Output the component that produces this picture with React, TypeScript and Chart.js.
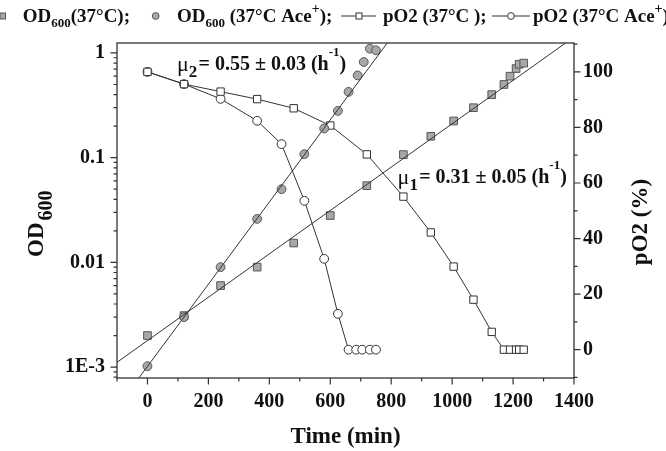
import { useEffect, useRef } from 'react';
import { Chart, registerables } from 'chart.js';
Chart.register(...registerables);

const FONT = '"Liberation Serif", "Times New Roman", serif';

// ---- data ----
const odTime37 = [0, 120, 240, 360, 480, 600, 720, 840, 930, 1005, 1070, 1130, 1170, 1190, 1210, 1220, 1235];
const od37 = [0.002, 0.0031, 0.006, 0.009, 0.0153, 0.028, 0.054, 0.107, 0.16, 0.224, 0.3, 0.4, 0.5, 0.6, 0.71, 0.78, 0.8];

const odTimeAce = [0, 120, 240, 360, 440, 515, 580, 625, 660, 690, 710, 730, 750];
const odAce = [0.00102, 0.003, 0.009, 0.026, 0.05, 0.108, 0.19, 0.28, 0.425, 0.61, 0.82, 1.1, 1.06];

const pO2Time37 = [0, 120, 240, 360, 480, 600, 720, 840, 930, 1005, 1070, 1130, 1170, 1190, 1210, 1220, 1235];
const pO237 = [100, 95.6, 92.9, 90.2, 86.9, 80.7, 70.3, 55.1, 42.2, 29.9, 18.0, 6.4, 0, 0, 0, 0, 0];

const pO2TimeAce = [0, 120, 240, 360, 440, 515, 580, 625, 660, 685, 705, 730, 750];
const pO2Ace = [100, 95.6, 90.3, 82.4, 74, 53.6, 32.7, 12.9, 0, 0, 0, 0, 0];

// fitted growth lines (end points)
const fit1Time = [-100, 1400];
const fit1OD = [0.00111, 1.42];
const fit2Time = [-50, 800];
const fit2OD = [0.000646, 1.4];

// axes
const xTickValues = [0, 200, 400, 600, 800, 1000, 1200, 1400];
const xMinorValues = [-100, 100, 300, 500, 700, 900, 1100, 1300];
const odTickValues = [0.001, 0.01, 0.1, 1];
const odTickLabels = ['1E-3', '0.01', '0.1', '1'];
const pO2TickValues = [0, 20, 40, 60, 80, 100];
const pO2MinorValues = [-10, 10, 30, 50, 70, 90, 110];

// annotation anchors (data coords: time, OD)
const annotTime = [97, 821];
const annotOD = [0.684, 0.0574];
const annotSub = ['2', '1'];
const annotBody = ['= 0.55 ± 0.03 (h', '= 0.31 ± 0.05 (h'];

const toXY = (xs: number[], ys: number[]) => xs.map((x, i) => ({ x, y: ys[i] }));

type Run = { t: string; s: number; dy?: number; w?: string };
function drawRuns(ctx: CanvasRenderingContext2D, x: number, y: number, runs: Run[]) {
  for (const r of runs) {
    ctx.font = `${r.w ?? 'bold'} ${r.s}px ${FONT}`;
    ctx.fillText(r.t, x, y + (r.dy ?? 0));
    x += ctx.measureText(r.t).width;
  }
  return x;
}
function runsWidth(ctx: CanvasRenderingContext2D, runs: Run[]) {
  let w = 0;
  for (const r of runs) {
    ctx.font = `${r.w ?? 'bold'} ${r.s}px ${FONT}`;
    w += ctx.measureText(r.t).width;
  }
  return w;
}

function drawCenteredTitle(ctx: CanvasRenderingContext2D, cx: number, cy: number, runs: Run[], rot: number) {
  ctx.save();
  ctx.translate(cx, cy);
  ctx.rotate(rot);
  const w = runsWidth(ctx, runs);
  drawRuns(ctx, -w / 2, 0, runs);
  ctx.restore();
}

const decorPlugin = {
  id: 'decor',
  afterDraw(chart: any) {
    const { ctx, chartArea: a, scales } = chart;
    const xs = scales.x, ys = scales.y, y2 = scales.y2;
    ctx.save();
    // frame
    ctx.strokeStyle = '#333';
    ctx.lineWidth = 1.3;
    ctx.strokeRect(a.left, a.top, a.right - a.left, a.bottom - a.top);
    // ticks
    ctx.lineWidth = 1.2;
    ctx.beginPath();
    const inX = (v: number) => v >= xs.min && v <= xs.max;
    xTickValues.filter(inX).forEach(v => { const p = xs.getPixelForValue(v); ctx.moveTo(p, a.bottom); ctx.lineTo(p, a.bottom + 6.5); });
    xMinorValues.filter(inX).forEach(v => { const p = xs.getPixelForValue(v); ctx.moveTo(p, a.bottom); ctx.lineTo(p, a.bottom + 3.5); });
    for (let d = -4; d <= 0; d++) {
      for (let m = 1; m <= 9; m++) {
        const v = m * Math.pow(10, d);
        if (v < ys.min || v > ys.max) continue;
        const p = ys.getPixelForValue(v);
        ctx.moveTo(a.left, p); ctx.lineTo(a.left - (m === 1 ? 6.5 : 3.5), p);
      }
    }
    pO2TickValues.forEach(v => { const p = y2.getPixelForValue(v); ctx.moveTo(a.right, p); ctx.lineTo(a.right + 6.5, p); });
    pO2MinorValues.filter(v => v >= y2.min && v <= y2.max).forEach(v => { const p = y2.getPixelForValue(v); ctx.moveTo(a.right, p); ctx.lineTo(a.right + 3.5, p); });
    ctx.stroke();

    ctx.fillStyle = '#111';
    ctx.textBaseline = 'alphabetic';
    ctx.textAlign = 'left';

    // annotations
    annotTime.forEach((t, i) => {
      const px = xs.getPixelForValue(t);
      const py = ys.getPixelForValue(annotOD[i]);
      drawRuns(ctx, px, py, [
        { t: 'μ', s: 22, w: 'normal', dy: 1 },
        { t: annotSub[i], s: 17, dy: 7 },
        { t: ' ', s: 5 },
        { t: annotBody[i], s: 20 },
        { t: '-1', s: 13, dy: -14 },
        { t: ')', s: 20 },
      ]);
    });

    // axis titles
    drawCenteredTitle(ctx, (a.left + a.right) / 2, 443, [{ t: 'Time (min)', s: 23 }], 0);
    ctx.save();
    ctx.translate(43, 257);
    ctx.rotate(-Math.PI / 2);
    drawRuns(ctx, 0, 0, [{ t: 'OD', s: 23 }, { t: ' ', s: 8 }, { t: '600', s: 20, dy: 9 }]);
    ctx.restore();
    drawCenteredTitle(ctx, 647, 222, [{ t: 'pO2 (%)', s: 23 }], -Math.PI / 2);

    // legend
    ctx.lineWidth = 1;
    ctx.strokeStyle = '#555';
    ctx.fillStyle = '#a8a8a8';
    ctx.fillRect(0, 13, 5.5, 6); ctx.strokeRect(0, 13, 5.5, 6);
    ctx.beginPath(); ctx.arc(155.7, 16, 3.4, 0, Math.PI * 2); ctx.fill(); ctx.stroke();
    ctx.strokeStyle = '#333';
    ctx.beginPath(); ctx.moveTo(341, 16); ctx.lineTo(376, 16); ctx.stroke();
    ctx.fillStyle = '#fff';
    ctx.fillRect(356, 13, 6, 6); ctx.strokeRect(356, 13, 6, 6);
    ctx.beginPath(); ctx.moveTo(492, 16); ctx.lineTo(530, 16); ctx.stroke();
    ctx.beginPath(); ctx.arc(511, 16, 3.4, 0, Math.PI * 2); ctx.fill(); ctx.stroke();

    ctx.fillStyle = '#111';
    const base = 21.7;
    drawRuns(ctx, 22.7, base, [{ t: 'OD', s: 19 }, { t: '600', s: 13, dy: 5 }, { t: '(37°C);', s: 19 }]);
    drawRuns(ctx, 177, base, [{ t: 'OD', s: 19 }, { t: '600', s: 13, dy: 5 }, { t: ' (37°C Ace', s: 19 }, { t: '+', s: 14, dy: -9 }, { t: ');', s: 19 }]);
    drawRuns(ctx, 383, base, [{ t: 'pO2 (37°C );', s: 19 }]);
    drawRuns(ctx, 533, base, [{ t: 'pO2 (37°C Ace', s: 19 }, { t: '+', s: 14, dy: -9 }, { t: ')', s: 19 }]);
    ctx.restore();
  },
};

export default function App() {
  const ref = useRef<HTMLCanvasElement>(null);
  useEffect(() => {
    document.body.style.margin = '0';
    Chart.defaults.font.family = FONT;
    Chart.defaults.color = '#111';
    const tickFont = { size: 20, weight: 'bold' as const, family: FONT };
    const chart = new Chart(ref.current!, {
      type: 'scatter',
      data: {
        datasets: [
          {
            data: toXY(fit1Time, fit1OD), yAxisID: 'y', showLine: true, pointRadius: 0,
            borderColor: '#333', borderWidth: 1, order: 0,
          },
          {
            data: toXY(fit2Time, fit2OD), yAxisID: 'y', showLine: true, pointRadius: 0,
            borderColor: '#333', borderWidth: 1, order: 0,
          },
          {
            label: 'OD600 (37°C)', data: toXY(odTime37, od37), yAxisID: 'y', pointStyle: 'rect',
            pointRadius: 5.4, backgroundColor: '#a8a8a8', borderColor: '#555', borderWidth: 1, order: 2,
          },
          {
            label: 'OD600 (37°C Ace+)', data: toXY(odTimeAce, odAce), yAxisID: 'y', pointStyle: 'circle',
            pointRadius: 4.4, backgroundColor: '#a8a8a8', borderColor: '#555', borderWidth: 1, order: 1,
          },
          {
            label: 'pO2 (37°C)', data: toXY(pO2Time37, pO237), yAxisID: 'y2', showLine: true, pointStyle: 'rect',
            pointRadius: 5.2, backgroundColor: '#fff', borderColor: '#333', borderWidth: 1, order: 3,
          },
          {
            label: 'pO2 (37°C Ace+)', data: toXY(pO2TimeAce, pO2Ace), yAxisID: 'y2', showLine: true, pointStyle: 'circle',
            pointRadius: 4.4, backgroundColor: '#fff', borderColor: '#333', borderWidth: 1, order: 3,
          },
        ],
      },
      options: {
        responsive: false,
        animation: false,
        events: [],
        layout: { padding: { top: 43, left: 0, right: 0, bottom: 0 } },
        plugins: { legend: { display: false }, tooltip: { enabled: false } },
        scales: {
          x: {
            type: 'linear', position: 'bottom', min: -100, max: 1400,
            grid: { display: false, drawTicks: false }, border: { display: false },
            ticks: { font: tickFont, padding: 12, color: '#111', autoSkip: false, maxRotation: 0, callback: (v: any) => String(v) },
            afterBuildTicks: (s: any) => { s.ticks = xTickValues.map(v => ({ value: v })); },
            afterFit: (s: any) => { s.height = 451 - 378; },
          },
          y: {
            type: 'logarithmic', position: 'left', min: 0.000786, max: 1.245,
            grid: { display: false, drawTicks: false }, border: { display: false },
            ticks: {
              font: tickFont, padding: 12, color: '#111', autoSkip: false,
              callback: (v: any) => { const i = odTickValues.findIndex(t => Math.abs(t - v) / t < 1e-6); return i >= 0 ? odTickLabels[i] : ''; },
            },
            afterBuildTicks: (s: any) => { s.ticks = odTickValues.map(v => ({ value: v, major: false })); },
            afterFit: (s: any) => { s.width = 117; },
          },
          y2: {
            type: 'linear', position: 'right', min: -10.2, max: 110.4,
            grid: { display: false, drawTicks: false }, border: { display: false },
            ticks: { font: tickFont, padding: 9, color: '#111', autoSkip: false, callback: (v: any) => String(v) },
            afterBuildTicks: (s: any) => { s.ticks = pO2TickValues.map(v => ({ value: v })); },
            afterFit: (s: any) => { s.width = 666 - 574; },
          },
        },
      },
      plugins: [decorPlugin],
    } as any);
    return () => chart.destroy();
  }, []);
  return (
    <div style={{ width: 666, height: 451 }}>
      <canvas ref={ref} width={666} height={451} style={{ display: 'block' }} />
    </div>
  );
}
